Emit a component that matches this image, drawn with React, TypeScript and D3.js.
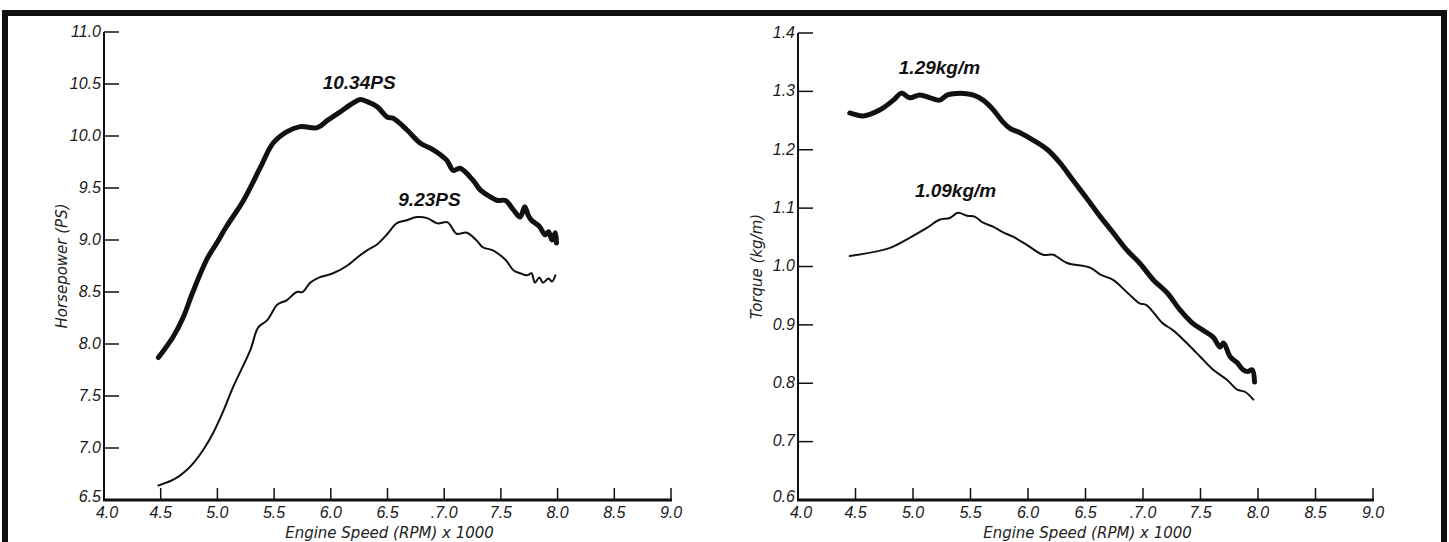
import React from "react";
import * as d3 from "d3";

// ---------- data ----------
const rpmTicks = [4.0, 4.5, 5.0, 5.5, 6.0, 6.5, 7.0, 7.5, 8.0, 8.5, 9.0];
const rpmTickLabels = ["4.0", "4.5", "5.0", "5.5", "6.0", "6.5", ".7.0", "7.5", "8.0", "8.5", "9.0"];
const hpTicks = [6.5, 7.0, 7.5, 8.0, 8.5, 9.0, 9.5, 10.0, 10.5, 11.0];
const torqueTicks = [0.6, 0.7, 0.8, 0.9, 1.0, 1.1, 1.2, 1.3, 1.4];

const hpHighRpm = [4.48, 4.61, 4.70, 4.78, 4.91, 5.0, 5.08, 5.23, 5.38, 5.49, 5.61, 5.73, 5.88, 5.97, 6.08, 6.20, 6.26, 6.32, 6.41, 6.50, 6.55, 6.67, 6.79, 6.90, 7.02, 7.08, 7.14, 7.25, 7.32, 7.40, 7.47, 7.54, 7.61, 7.67, 7.71, 7.74, 7.77, 7.84, 7.89, 7.92, 7.95, 7.98, 7.99];
const hpHigh = [7.87, 8.07, 8.26, 8.49, 8.82, 8.98, 9.13, 9.38, 9.70, 9.93, 10.04, 10.09, 10.08, 10.15, 10.23, 10.32, 10.35, 10.33, 10.28, 10.18, 10.17, 10.06, 9.93, 9.87, 9.77, 9.67, 9.69, 9.58, 9.48, 9.42, 9.38, 9.38, 9.29, 9.22, 9.32, 9.24, 9.19, 9.13, 9.05, 9.08, 9.00, 9.07, 8.97];

const hpLowRpm = [4.48, 4.62, 4.72, 4.80, 4.88, 4.96, 5.05, 5.14, 5.29, 5.36, 5.44, 5.53, 5.61, 5.70, 5.75, 5.82, 5.90, 6.02, 6.14, 6.23, 6.32, 6.41, 6.50, 6.58, 6.67, 6.76, 6.85, 6.94, 7.03, 7.11, 7.20, 7.29, 7.34, 7.43, 7.54, 7.61, 7.67, 7.73, 7.77, 7.80, 7.84, 7.87, 7.92, 7.95, 7.98];
const hpLow = [6.64, 6.70, 6.78, 6.87, 6.99, 7.14, 7.35, 7.59, 7.94, 8.16, 8.23, 8.38, 8.42, 8.50, 8.50, 8.59, 8.64, 8.68, 8.75, 8.83, 8.90, 8.96, 9.06, 9.16, 9.19, 9.22, 9.21, 9.16, 9.17, 9.06, 9.07, 8.99, 8.93, 8.90, 8.81, 8.71, 8.68, 8.66, 8.68, 8.59, 8.64, 8.59, 8.63, 8.60, 8.66];

const tqHighRpm = [4.45, 4.57, 4.71, 4.83, 4.90, 4.97, 5.06, 5.15, 5.23, 5.30, 5.41, 5.52, 5.61, 5.70, 5.78, 5.84, 5.93, 6.04, 6.17, 6.28, 6.39, 6.51, 6.63, 6.74, 6.86, 6.97, 7.09, 7.21, 7.32, 7.43, 7.52, 7.61, 7.67, 7.70, 7.76, 7.82, 7.87, 7.91, 7.95, 7.97];
const tqHigh = [1.263, 1.258, 1.268, 1.285, 1.297, 1.289, 1.294, 1.289, 1.285, 1.294, 1.297, 1.294, 1.285, 1.268, 1.248, 1.237, 1.229, 1.217, 1.200, 1.177, 1.148, 1.117, 1.085, 1.058, 1.028, 1.006, 0.977, 0.955, 0.926, 0.903, 0.891, 0.879, 0.862, 0.869, 0.845, 0.835, 0.823, 0.820, 0.823, 0.802];

const tqLowRpm = [4.45, 4.80, 4.97, 5.12, 5.23, 5.32, 5.39, 5.47, 5.54, 5.61, 5.70, 5.78, 5.87, 5.99, 6.13, 6.22, 6.34, 6.54, 6.63, 6.74, 6.86, 6.97, 7.03, 7.17, 7.26, 7.38, 7.50, 7.61, 7.73, 7.82, 7.89, 7.96];
const tqLow = [1.018, 1.032, 1.049, 1.066, 1.080, 1.083, 1.092, 1.087, 1.085, 1.075, 1.068, 1.059, 1.051, 1.037, 1.020, 1.020, 1.006, 0.998, 0.986, 0.977, 0.956, 0.937, 0.934, 0.903, 0.891, 0.869, 0.845, 0.823, 0.806, 0.789, 0.785, 0.772];

const hpLabels = ["10.34PS", "9.23PS"];
const tqLabels = ["1.29kg/m", "1.09kg/m"];

// ---------- drawing ----------
const tickFont = "'Liberation Sans Narrow', 'Arial Narrow', 'Liberation Sans', sans-serif";
const titleFont = "'DejaVu Sans', sans-serif";
const labelFont = "'Liberation Sans', Arial, sans-serif";

type Series = { x: number[]; y: number[]; width: number };
type Ann = { text: string; x: number; y: number };

function Panel(props: {
  xr: [number, number];
  yr: [number, number];
  ydom: [number, number];
  yTicks: number[];
  yFmt: (v: number) => string;
  series: Series[];
  anns: Ann[];
  yTitle: string;
  yTitleX: number;
}) {
  const { xr, yr, ydom, yTicks, yFmt, series, anns, yTitle, yTitleX } = props;
  const x = d3.scaleLinear().domain([4, 9]).range(xr);
  const y = d3.scaleLinear().domain(ydom).range(yr);
  const line = d3
    .line<[number, number]>()
    .x((d) => x(d[0]))
    .y((d) => y(d[1]))
    .curve(d3.curveCatmullRom.alpha(0.5));
  const x0 = xr[0];
  const yb = yr[0];
  return (
    <g>
      {/* y axis */}
      <line x1={x0} x2={x0} y1={y(ydom[1])} y2={yb} stroke="#111" strokeWidth={2} />
      {yTicks.map((t) => (
        <g key={"y" + t}>
          {t !== ydom[0] && (
            <line x1={x0} x2={x0 + 15} y1={y(t)} y2={y(t)} stroke="#111" strokeWidth={1.5} />
          )}
          <text
            x={x0 - 3}
            y={y(t)}
            dy={t === ydom[0] ? "0.1em" : "0.3em"}
            textAnchor="end"
            fontFamily={tickFont}
            fontStyle="italic"
            fontSize={16}
            fill="#1a1a1a"
          >
            {yFmt(t)}
          </text>
        </g>
      ))}
      {/* x axis */}
      <line x1={x0 - 1} x2={xr[1] + 1} y1={yb} y2={yb} stroke="#111" strokeWidth={3} />
      {rpmTicks.map((t, i) => (
        <g key={"x" + t}>
          {i > 0 && <line x1={x(t)} x2={x(t)} y1={yb} y2={yb - 12} stroke="#111" strokeWidth={1.5} />}
          <text
            x={x(t) + (i === 0 ? 3 : 0)}
            y={yb + 18}
            textAnchor="middle"
            fontFamily={tickFont}
            fontStyle="italic"
            fontSize={16}
            fill="#1a1a1a"
          >
            {rpmTickLabels[i]}
          </text>
        </g>
      ))}
      <text
        x={(xr[0] + xr[1]) / 2 + 2}
        y={yb + 38}
        textAnchor="middle"
        fontFamily={titleFont}
        fontStyle="italic"
        fontSize={15}
        fill="#222"
      >
        Engine Speed (RPM) x 1000
      </text>
      <text
        transform={`translate(${yTitleX},${(yr[0] + yr[1]) / 2}) rotate(-90)`}
        textAnchor="middle"
        dy="0.35em"
        fontFamily={titleFont}
        fontStyle="italic"
        fontSize={15}
        fill="#222"
      >
        {yTitle}
      </text>
      {series.map((s, i) => (
        <path
          key={"s" + i}
          d={line(s.x.map((v, j) => [v, s.y[j]] as [number, number])) || ""}
          fill="none"
          stroke="#111"
          strokeWidth={s.width}
          strokeLinejoin="round"
          strokeLinecap="round"
        />
      ))}
      {anns.map((a) => (
        <text
          key={a.text}
          x={x(a.x)}
          y={y(a.y)}
          textAnchor="middle"
          fontFamily={labelFont}
          fontStyle="italic"
          fontWeight="bold"
          fontSize={19}
          fill="#111"
        >
          {a.text}
        </text>
      ))}
    </g>
  );
}

export default function App() {
  return (
    <div style={{ position: "absolute", left: 0, top: 0 }}>
      <svg width={1449} height={542} style={{ display: "block", background: "#fff" }}>
        <path d="M5,560 V13 H1444 V560" fill="none" stroke="#111" strokeWidth={6} />
        <Panel
          xr={[104, 671]}
          yr={[500, 32]}
          ydom={[6.5, 11.0]}
          yTicks={hpTicks}
          yFmt={(v) => v.toFixed(1)}
          series={[
            { x: hpHighRpm, y: hpHigh, width: 5 },
            { x: hpLowRpm, y: hpLow, width: 2 },
          ]}
          anns={[
            { text: hpLabels[0], x: 6.25, y: 10.45 },
            { text: hpLabels[1], x: 6.87, y: 9.33 },
          ]}
          yTitle="Horsepower (PS)"
          yTitleX={62}
        />
        <Panel
          xr={[798, 1373]}
          yr={[500, 33]}
          ydom={[0.6, 1.4]}
          yTicks={torqueTicks}
          yFmt={(v) => v.toFixed(1)}
          series={[
            { x: tqHighRpm, y: tqHigh, width: 5 },
            { x: tqLowRpm, y: tqLow, width: 2 },
          ]}
          anns={[
            { text: tqLabels[0], x: 5.23, y: 1.33 },
            { text: tqLabels[1], x: 5.37, y: 1.119 },
          ]}
          yTitle="Torque (kg/m)"
          yTitleX={757}
        />
      </svg>
    </div>
  );
}
